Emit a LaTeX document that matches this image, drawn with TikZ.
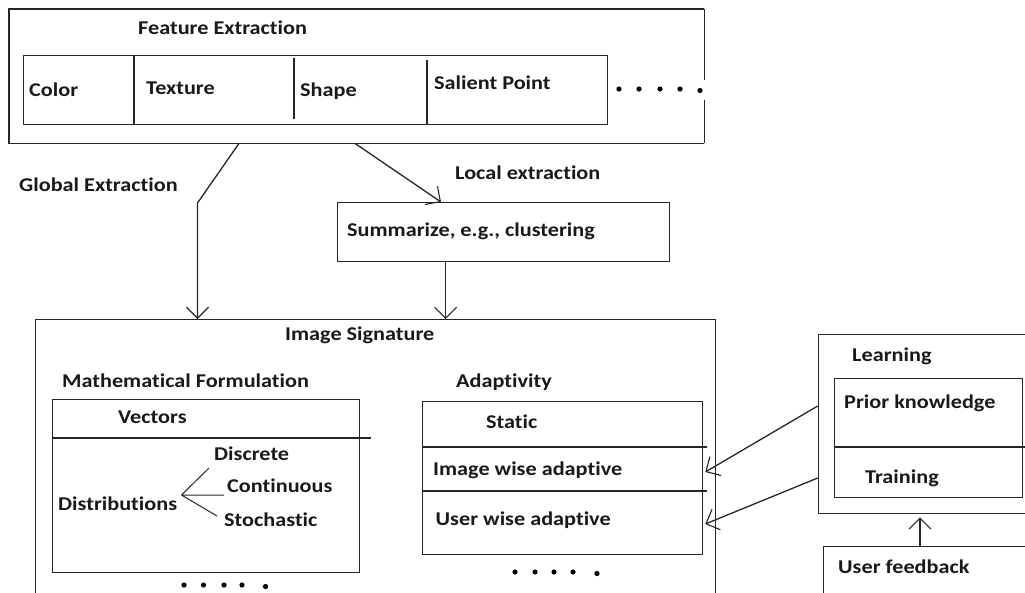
\documentclass[tikz,border=0pt]{standalone}
\usepackage{fontspec}
\setmainfont{Carlito}[FakeStretch=1.14, Ligatures=NoCommon]
\usetikzlibrary{arrows.meta}
\tikzset{
  ln/.style={line width=1.3pt, draw=black!85},
  box/.style={ln, draw, rectangle, inner sep=0pt, anchor=north west},
  hold/.style={rectangle, inner sep=0pt, anchor=north west},
  lbl/.style={anchor=base west, inner sep=0pt, font=\fontsize{19.5}{22}\selectfont\bfseries, text=black!90},
  arr/.style={ln, -{Straight Barb[length=11pt,width=22pt,line width=1.1pt]}},
  dot/.style={fill=black, draw=none},
}
\begin{document}
\begin{tikzpicture}[x=1pt,y=-1pt]
\useasboundingbox (0,0) rectangle (1025,592);
\clip (0,0) rectangle (1025,592);

% ---- Feature extraction block ----
\node[hold, minimum width=695pt, minimum height=134pt] (fe) at (9,9) {};
\draw[ln] (fe.south east) -- ++(0,-43) (fe.north east) -- ++(0,71);
\draw[ln] (fe.north east) -- (fe.north west) -- (fe.south west) -- (fe.south east);
\node[lbl] (feT) at (138,34.5) {Feature Extraction};
\node[box, minimum width=584.5pt, minimum height=69pt] (feats) at (22.5,55) {};
\draw[ln] (134,55) -- (134,124);
\draw[ln] (294,58) -- (294,119);
\draw[ln] (427,60) -- (427,124);
\node[lbl] (color) at (29,96) {Color};
\node[lbl] (texture) at (146,94) {Texture};
\node[lbl] (shape) at (300,96) {Shape};
\node[lbl] (salient) at (434,89) {Salient Point};
\foreach \x in {619,639,660,680} \fill[dot] (\x,89) circle (2.6);
\fill[dot] (700,90.5) circle (2.6);

% ---- extraction paths ----
\node[lbl] (glob) at (19,191.5) {Global Extraction};
\node[lbl] (loc) at (455,179) {Local extraction};
\node[box, minimum width=332pt, minimum height=59pt] (sum) at (337,202) {};
\node[lbl] (sumT) at (347,236) {Summarize, e.g., clustering};

% ---- image signature block ----
\node[box, minimum width=680.5pt, minimum height=290pt] (sig) at (34.5,319) {};
\node[lbl] (sigT) at (285,340.5) {Image Signature};

\node[lbl] (mathT) at (62,387.5) {Mathematical Formulation};
\node[box, minimum width=307.5pt, minimum height=173pt] (math) at (51.5,399) {};
\draw[ln] (math.west |- 0,438) -- (371,438);
\node[lbl] (vec) at (118,423) {Vectors};
\node[lbl] (dist) at (58,510) {Distributions};
\node[lbl] (disc) at (214,460.5) {Discrete};
\node[lbl] (cont) at (227,492) {Continuous};
\node[lbl] (stoc) at (224,526) {Stochastic};
\coordinate (fork) at (181.5,495);
\draw[line width=1pt, black!85] (fork) -- (209,468) (fork) -- (224,495) (fork) -- (217,516);
\foreach \x in {184,203.5,224,242} \fill[dot] (\x,585) circle (2.6);
\fill[dot] (265.5,586.5) circle (2.6);

\node[lbl] (adT) at (456,387.5) {Adaptivity};
\node[box, minimum width=280pt, minimum height=153pt] (adapt) at (422,401) {};
\draw[ln] (adapt.west |- 0,447) -- (707,447);
\draw[ln] (adapt.west |- 0,491) -- (707,491);
\node[lbl] (static) at (486,428) {Static};
\node[lbl] (imgw) at (433,475.5) {Image wise adaptive};
\node[lbl] (userw) at (435.5,525.5) {User wise adaptive};
\foreach \x in {515,535,554,573} \fill[dot] (\x,572) circle (2.6);
\fill[dot] (597,573.5) circle (2.6);

% ---- learning block ----
\node[box, minimum width=220pt, minimum height=179pt] (learn) at (817.7,334) {};
\node[lbl] (learnT) at (852,361.5) {Learning};
\node[box, minimum width=188pt, minimum height=119pt] (know) at (834,378) {};
\draw[ln] (know.west |- 0,447) -- (1030,447);
\node[lbl] (prior) at (844,408) {Prior knowledge};
\node[lbl] (train) at (865,483) {Training};

\node[box, minimum width=220pt, minimum height=60pt] (fb) at (822.7,546) {};
\node[lbl] (fbT) at (838,573) {User feedback};

% ---- connectors ----
\coordinate (gbend) at (197.5,203);
\draw[arr] ([xshift=230pt]fe.south west) -- (gbend) -- (gbend |- sig.north);
\draw[arr] ([xshift=346pt]fe.south west) -- ([xshift=104pt]sum.north west);
\coordinate (sumout) at ([xshift=108.6pt]sum.south west);
\draw[arr] (sumout) -- (sumout |- sig.north);
\draw[arr] ([yshift=-72pt]learn.north west) -- ([shift={(2pt,-71pt)}]adapt.north east);
\draw[arr] ([yshift=-144pt]learn.north west) -- ([shift={(2pt,-123pt)}]adapt.north east);
\coordinate (fbtop) at ([xshift=97.3pt]fb.north west);
\coordinate (lbot) at (fbtop |- learn.south);
\draw[arr, shorten >=3pt] (fbtop) -- (lbot);
\end{tikzpicture}
\end{document}
